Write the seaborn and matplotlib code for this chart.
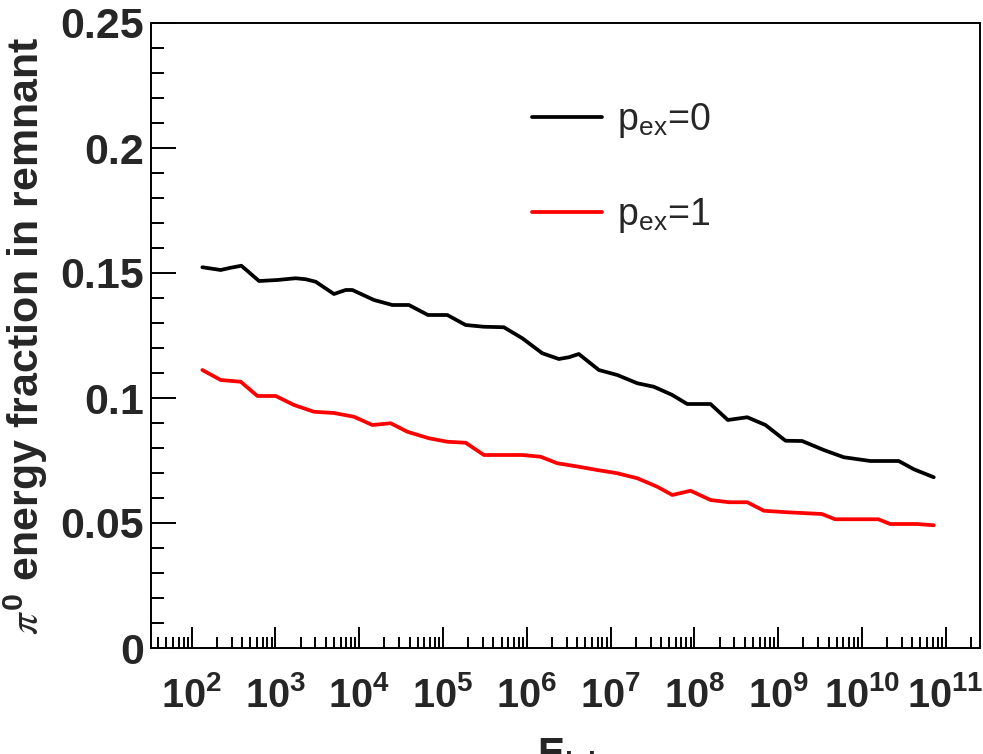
import numpy as np
import pandas as pd
import matplotlib
matplotlib.use("Agg")
import matplotlib.pyplot as plt
from matplotlib.lines import Line2D
from matplotlib.ticker import FixedLocator, LogLocator, MultipleLocator, FuncFormatter, NullFormatter
import seaborn as sns

# log10 of the lab energy and the pi0 energy fraction for each setting
log10_energy_p0 = [2.127, 2.346, 2.465, 2.593, 2.804, 3.023, 3.241, 3.361, 3.480, 3.698,
                   3.838, 3.918, 4.176, 4.395, 4.593, 4.820, 5.051, 5.270, 5.488, 5.726,
                   5.946, 6.185, 6.383, 6.502, 6.621, 6.860, 7.080, 7.319, 7.517, 7.737,
                   7.915, 8.193, 8.400, 8.632, 8.849, 9.089, 9.287, 9.545, 9.784, 10.102,
                   10.440, 10.620, 10.858]
fraction_p0 = [0.1523, 0.1512, 0.1521, 0.1529, 0.1468, 0.1472, 0.1479, 0.1475, 0.1465, 0.1416,
               0.1432, 0.1432, 0.1392, 0.1372, 0.1372, 0.1332, 0.1332, 0.1292, 0.1285, 0.1283,
               0.1239, 0.1179, 0.1156, 0.1163, 0.1176, 0.1112, 0.1092, 0.1059, 0.1045, 0.1012,
               0.0976, 0.0976, 0.0912, 0.0923, 0.0892, 0.0829, 0.0828, 0.0792, 0.0763, 0.0748,
               0.0748, 0.0715, 0.0683]

log10_energy_p1 = [2.127, 2.346, 2.585, 2.784, 3.003, 3.221, 3.459, 3.698, 3.937, 4.156,
                   4.375, 4.574, 4.831, 5.051, 5.270, 5.488, 5.946, 6.165, 6.364, 6.621,
                   6.840, 7.080, 7.319, 7.557, 7.737, 7.955, 8.193, 8.415, 8.632, 8.830,
                   9.104, 9.522, 9.680, 10.197, 10.337, 10.655, 10.858]
fraction_p1 = [0.1112, 0.1072, 0.1065, 0.1008, 0.1008, 0.0972, 0.0945, 0.0940, 0.0925, 0.0892,
               0.0899, 0.0865, 0.0839, 0.0825, 0.0821, 0.0772, 0.0772, 0.0765, 0.0739, 0.0725,
               0.0712, 0.0699, 0.0679, 0.0645, 0.0612, 0.0629, 0.0592, 0.0583, 0.0583, 0.0549,
               0.0543, 0.0536, 0.0515, 0.0515, 0.0496, 0.0496, 0.0491]

series_labels = [r"p$_{\mathregular{ex}}$=0", r"p$_{\mathregular{ex}}$=1"]
series_colors = ["#000000", "#ff0000"]
y_ticks = [0.0, 0.05, 0.1, 0.15, 0.2, 0.25]
x_decades = list(range(2, 12))

df = pd.concat([
    pd.DataFrame({"energy": np.power(10.0, log10_energy_p0), "fraction": fraction_p0,
                  "setting": series_labels[0]}),
    pd.DataFrame({"energy": np.power(10.0, log10_energy_p1), "fraction": fraction_p1,
                  "setting": series_labels[1]}),
], ignore_index=True)

sns.set_style("ticks")
plt.rcParams["font.family"] = ["Liberation Sans", "DejaVu Sans"]
plt.rcParams["mathtext.fontset"] = "stix"

fig = plt.figure(figsize=(9.83, 7.54), dpi=100)
ax = fig.add_axes([151 / 983, 1 - 648 / 754, 829 / 983, 625 / 754])

sns.lineplot(data=df, x="energy", y="fraction", hue="setting",
             palette=dict(zip(series_labels, series_colors)),
             estimator=None, errorbar=None, linewidth=2.7, ax=ax, legend=False)

ax.set_xscale("log")
ax.set_xlim(10 ** 1.514, 10 ** 11.41)
ax.set_ylim(0, 0.25)

ax.xaxis.set_major_locator(FixedLocator([10.0 ** d for d in x_decades]))
ax.xaxis.set_major_formatter(FuncFormatter(
    lambda v, p: r"$\mathregular{10^{%d}}$" % int(round(np.log10(v)))))
ax.xaxis.set_minor_locator(LogLocator(base=10, subs=np.arange(2, 10), numticks=40))
ax.xaxis.set_minor_formatter(NullFormatter())

ax.yaxis.set_major_locator(FixedLocator(y_ticks))
ax.yaxis.set_major_formatter(FuncFormatter(lambda v, p: f"{v:g}"))
ax.yaxis.set_minor_locator(MultipleLocator(0.01))

for side in ["top", "right", "left", "bottom"]:
    ax.spines[side].set_visible(True)
    ax.spines[side].set_linewidth(1.4)
    ax.spines[side].set_color("black")

ax.tick_params(axis="both", which="both", direction="in", top=False, right=False,
               width=1.4, color="black")
ax.tick_params(axis="x", which="major", length=15, pad=20, labelsize=28.5)
ax.tick_params(axis="x", which="minor", length=8)
ax.tick_params(axis="y", which="major", length=18, pad=5, labelsize=31)
ax.tick_params(axis="y", which="minor", length=9.5)
for lab in ax.get_xticklabels() + ax.get_yticklabels():
    lab.set_fontweight("bold")

ax.set_ylabel(r"$\pi^{\mathregular{0}}$ energy fraction in remnant",
              fontsize=31, fontweight="bold")
ax.yaxis.set_label_coords((50 - 151) / 829, 0.5)

ax.set_xlabel(r"E$_{\mathregular{lab}}$", fontsize=29, fontweight="bold")
ax.xaxis.label.set_ha("left")
ax.xaxis.label.set_va("baseline")
ax.xaxis.set_label_coords((537 - 151) / 829, (648 - 767) / 625)

handles = [Line2D([], [], color=c, linewidth=2.7) for c in series_colors]
ax.legend(handles, series_labels, loc="upper left",
          bbox_to_anchor=(532 / 983, 1 - 101 / 754), bbox_transform=fig.transFigure,
          frameon=False, fontsize=27, handlelength=1.87, handletextpad=0.4,
          labelspacing=1.5, borderpad=0, borderaxespad=0)

fig.savefig("out.png", dpi=100, facecolor="white")
